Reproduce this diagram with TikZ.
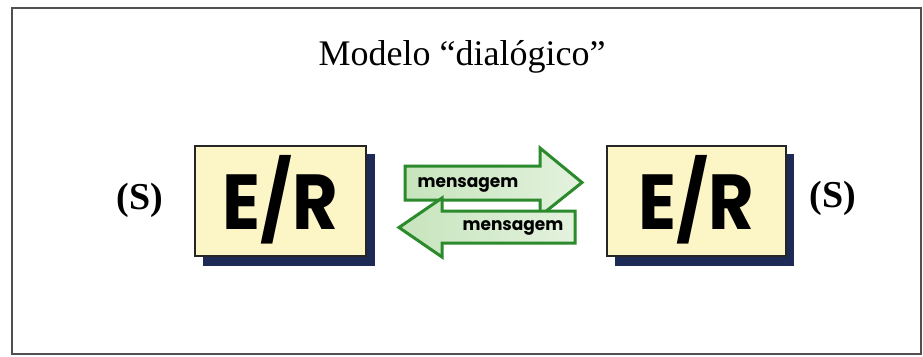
\documentclass[tikz,border=0pt]{standalone}
\usepackage{fontspec}
\setmainfont{Liberation Serif}
\newfontfamily\erfont{Poppins}
\definecolor{boxfill}{HTML}{FCF5C6}
\definecolor{shadowc}{HTML}{1C2A55}
\definecolor{arrowline}{HTML}{2B8A2B}
\definecolor{arrowA}{HTML}{C6E4BC}
\definecolor{arrowB}{HTML}{E4F2DE}
\definecolor{framec}{HTML}{505050}
\tikzset{
  erbox/.style={draw=black!85, line width=1.6pt, fill=boxfill},
  ershadow/.style={fill=shadowc, draw=none},
  ertext/.style={font=\erfont\bfseries\fontsize{78}{78}\selectfont, inner sep=0pt, xscale=0.9},
  stext/.style={font=\bfseries\fontsize{38}{38}\selectfont, inner sep=0pt},
  msgarrow/.style={draw=arrowline, line width=3pt, line join=miter, left color=arrowA, right color=arrowB},
  msgtext/.style={font=\erfont\bfseries\fontsize{17.5}{17.5}\selectfont, inner sep=0pt, xscale=0.97},
}
\begin{document}
\begin{tikzpicture}[x=1pt,y=-1pt]
\useasboundingbox (0,0) rectangle (923,356);
\fill[white] (0,0) rectangle (923,356);
% outer frame
\draw[framec, line width=2.8pt] (12,8) rectangle (921,354);
% title
\node[font=\fontsize{36}{36}\selectfont, anchor=base] (title) at (462,65) {Modelo “dialógico”};
% left box
\fill[ershadow] (203,154) rectangle (375,266);
\draw[erbox] (195,146) rectangle (366,256);
\coordinate (lc) at (280.5,200);
\node[ertext] (er1) at (lc) {E/R};
% right box
\fill[ershadow] (615,154) rectangle (794,266);
\draw[erbox] (607,146) rectangle (786,256);
\coordinate (rc) at (696.5,200);
\node[ertext] (er2) at (rc) {E/R};
% (S) labels
\node[stext] (s1) at (140,200) {(S)};
\node[stext] (s2) at (833,198) {(S)};
% top arrow (to the right)
\draw[msgarrow] (405,166) -- (540,166) -- (540,148) -- (582,182.5) -- (540,216) -- (540,200) -- (405,200) -- cycle;
\node[msgtext] (m1) at (468,185) {mensagem};
% bottom arrow (to the left)
\draw[msgarrow] (575,211) -- (442,211) -- (442,198) -- (399,227.5) -- (442,257) -- (442,243) -- (575,243) -- cycle;
\node[msgtext] (m2) at (513,228) {mensagem};
\end{tikzpicture}
\end{document}
